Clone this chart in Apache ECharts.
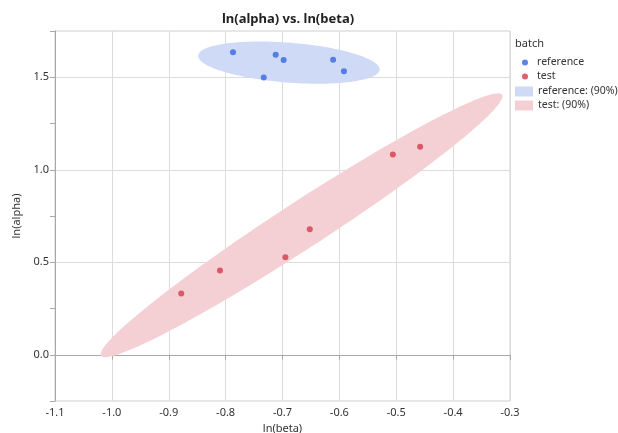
<!DOCTYPE html>
<html><head><meta charset="utf-8">
<script src="https://cdn.jsdelivr.net/npm/echarts@6/dist/echarts.min.js"></script>
<style>html,body{margin:0;padding:0;background:#fff}#c{width:618px;height:433px}</style>
</head><body><div id="c"></div>
<script>
// ---- data ----
const refLnBeta   = [-0.787, -0.712, -0.698, -0.733, -0.611, -0.592];
const refLnAlpha  = [1.635, 1.621, 1.593, 1.498, 1.595, 1.532];
const testLnBeta  = [-0.878, -0.810, -0.695, -0.652, -0.506, -0.458];
const testLnAlpha = [0.331, 0.455, 0.527, 0.679, 1.082, 1.124];
const xTickLabels = ['-1.1','-1.0','-0.9','-0.8','-0.7','-0.6','-0.5','-0.4','-0.3'];
const yTickLabels = ['0.0','0.5','1.0','1.5'];
const batches = ['reference', 'test'];
const coverage = 0.90;

// ---- density ellipse (normal, chi-square 2 df) computed from the data ----
function densityEllipse(xs, ys, p) {
  const n = xs.length;
  const mx = xs.reduce((a, b) => a + b, 0) / n;
  const my = ys.reduce((a, b) => a + b, 0) / n;
  let sxx = 0, syy = 0, sxy = 0;
  for (let i = 0; i < n; i++) {
    const dx = xs[i] - mx, dy = ys[i] - my;
    sxx += dx * dx; syy += dy * dy; sxy += dx * dy;
  }
  sxx /= (n - 1); syy /= (n - 1); sxy /= (n - 1);
  const tr = sxx + syy, det = sxx * syy - sxy * sxy;
  const disc = Math.sqrt(Math.max(tr * tr / 4 - det, 0));
  const l1 = tr / 2 + disc, l2 = tr / 2 - disc;
  const ang = 0.5 * Math.atan2(2 * sxy, sxx - syy);
  const c = Math.sqrt(-2 * Math.log(1 - p));
  const a = c * Math.sqrt(l1), b = c * Math.sqrt(Math.max(l2, 0));
  const pts = [];
  const N = 180;
  for (let k = 0; k < N; k++) {
    const t = 2 * Math.PI * k / N;
    const u = a * Math.cos(t), v = b * Math.sin(t);
    pts.push([mx + u * Math.cos(ang) - v * Math.sin(ang), my + u * Math.sin(ang) + v * Math.cos(ang)]);
  }
  return { center: [mx, my], pts };
}

const refEll = densityEllipse(refLnBeta, refLnAlpha, coverage);
const testEll = densityEllipse(testLnBeta, testLnAlpha, coverage);

const blue = '#3567e0', red = '#d5394b';
const blueFill = '#cfdaf6', redFill = '#f4d0d5';
const fontFam = '"Noto Sans", "Open Sans", sans-serif';

function ellipseSeries(name, ell, fill) {
  return {
    name, type: 'custom',
    itemStyle: { color: fill },
    data: [ell.center],
    z: 1,
    renderItem: function (params, api) {
      const pts = ell.pts.map(p => api.coord(p));
      return { type: 'polygon', shape: { points: pts }, style: { fill: fill } };
    }
  };
}

const chart = echarts.init(document.getElementById('c'), null, { renderer: 'canvas' });
chart.setOption({
  animation: false,
  backgroundColor: '#fff',
  textStyle: { fontFamily: fontFam },
  title: {
    text: 'ln(alpha) vs. ln(beta)',
    left: 283, top: 8, textAlign: 'center',
    textStyle: { fontSize: 13, fontWeight: 'bold', color: '#222', fontFamily: fontFam }
  },
  graphic: [{
    type: 'text', left: 515, top: 38,
    style: { text: 'batch', fontSize: 11, fill: '#333', fontFamily: fontFam }
  }],
  legend: [{
    orient: 'vertical', left: 517, top: 52,
    data: batches, icon: 'circle', itemWidth: 6, itemHeight: 6, itemGap: 3,
    textStyle: { fontSize: 10.5, color: '#333', padding: [0, 0, 0, 4] }
  }, {
    orient: 'vertical', left: 510, top: 81,
    data: batches.map(b => b + ': (90%)'), icon: 'rect', itemWidth: 18, itemHeight: 10, itemGap: 3,
    textStyle: { fontSize: 10.5, color: '#333' }
  }],
  grid: { left: 55, right: 108, top: 31, bottom: 32, show: true, borderColor: '#cfcfcf', borderWidth: 1,
          outerBoundsMode: 'none', containLabel: false },
  xAxis: {
    type: 'value', min: -1.1, max: -0.3, interval: 0.1,
    name: 'ln(beta)', nameLocation: 'middle', nameGap: 21,
    nameTextStyle: { fontSize: 11, color: '#333' },
    axisLine: { show: true, lineStyle: { color: '#a8a8a8' } },
    axisTick: { show: true, length: 5, lineStyle: { color: '#a8a8a8' } },
    axisLabel: { fontSize: 11, color: '#333', margin: 6,
      formatter: v => { const s = v.toFixed(1); return xTickLabels.includes(s) ? s : ''; } },
    splitLine: { show: true, lineStyle: { color: '#dcdcdc' } }
  },
  yAxis: {
    type: 'value', min: -0.25, max: 1.75, interval: 0.25,
    name: 'ln(alpha)', nameLocation: 'middle', nameGap: 33, nameRotate: 90,
    nameTextStyle: { fontSize: 11, color: '#333' },
    axisLine: { show: true, lineStyle: { color: '#a8a8a8' } },
    axisTick: { show: true, length: 5, lineStyle: { color: '#a8a8a8' } },
    axisLabel: { fontSize: 11, color: '#333', margin: 6,
      formatter: v => { const s = v.toFixed(1); return (yTickLabels.includes(s) && Math.abs(v * 2 - Math.round(v * 2)) < 1e-6) ? s : ''; } },
    splitLine: { show: true, lineStyle: { color: ['rgba(0,0,0,0)', '#dcdcdc'] } }
  },
  series: [
    ellipseSeries('reference: (90%)', refEll, blueFill),
    ellipseSeries('test: (90%)', testEll, redFill),
    { name: 'reference', type: 'scatter', symbolSize: 6, itemStyle: { color: blue }, z: 3,
      data: refLnBeta.map((x, i) => [x, refLnAlpha[i]]) },
    { name: 'test', type: 'scatter', symbolSize: 6, itemStyle: { color: red }, z: 3,
      data: testLnBeta.map((x, i) => [x, testLnAlpha[i]]) }
  ]
});
</script></body></html>
